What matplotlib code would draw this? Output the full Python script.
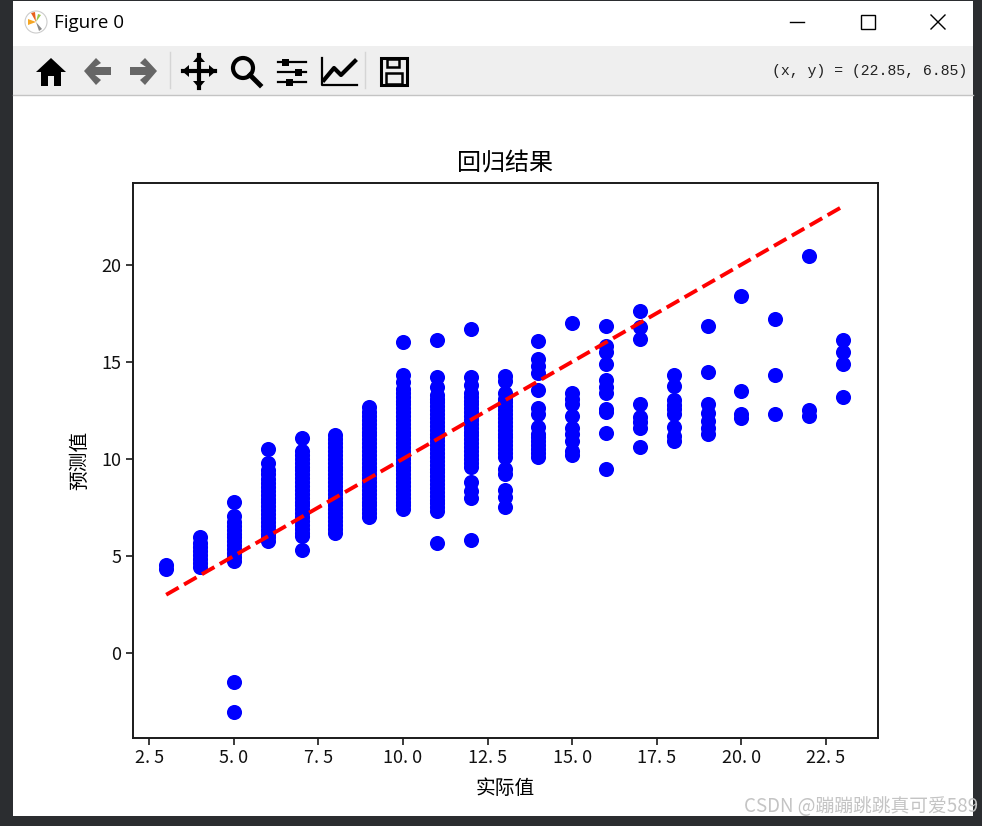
import matplotlib
matplotlib.use("Agg")
import matplotlib.pyplot as plt
from matplotlib.patches import Rectangle, Circle, Polygon

plt.rcParams['font.family'] = ['Noto Sans CJK SC', 'DejaVu Sans']
plt.rcParams['axes.unicode_minus'] = False

W, H = 982, 826

actual = [3, 4, 5, 6, 7, 8, 9, 10, 11, 12, 13, 14, 15, 16, 17, 18, 19, 20, 21, 22, 23]
predicted = [
    [4.3, 4.55],
    [4.45, 4.65, 4.85, 5.05, 5.25, 5.45, 5.65, 5.95],
    [-3.05, -1.5, 4.75, 4.95, 5.15, 5.35, 5.55, 5.75, 5.95, 6.15, 6.35, 6.55, 6.75, 7.05, 7.75],
    [5.75, 5.95, 6.15, 6.35, 6.55, 6.75, 6.95, 7.15, 7.35, 7.55, 7.75, 7.95, 8.15, 8.35, 8.55, 8.75, 8.95, 9.2, 9.4, 9.8, 10.5],
    [5.3, 6.0, 6.2, 6.4, 6.6, 6.8, 7.0, 7.2, 7.4, 7.6, 7.8, 8.0, 8.2, 8.4, 8.6, 8.8, 9.0, 9.2, 9.4, 9.6, 9.8, 10.0, 10.2, 10.4, 11.05],
    [6.2, 6.4, 6.6, 6.8, 7.0, 7.2, 7.4, 7.6, 7.8, 8.0, 8.2, 8.4, 8.6, 8.8, 9.0, 9.2, 9.4, 9.6, 9.8, 10.0, 10.2, 10.4, 10.6, 10.8, 11.0, 11.25],
    [7.0, 7.2, 7.4, 7.6, 7.8, 8.0, 8.2, 8.4, 8.6, 8.8, 9.0, 9.2, 9.4, 9.6, 9.8, 10.0, 10.2, 10.4, 10.6, 10.8, 11.0, 11.2, 11.4, 11.6, 11.8, 12.0, 12.2, 12.4, 12.65],
    [7.4, 7.6, 7.8, 8.0, 8.2, 8.4, 8.6, 8.8, 9.0, 9.2, 9.4, 9.6, 9.8, 10.0, 10.2, 10.4, 10.6, 10.8, 11.0, 11.2, 11.4, 11.6, 11.8, 12.0, 12.2, 12.4, 12.6, 12.8, 13.0, 13.2, 13.4, 13.6, 13.95, 14.3, 16.0],
    [5.65, 7.3, 7.5, 7.7, 7.9, 8.1, 8.3, 8.5, 8.7, 8.9, 9.1, 9.3, 9.5, 9.7, 9.9, 10.1, 10.3, 10.5, 10.7, 10.9, 11.1, 11.3, 11.5, 11.7, 11.9, 12.1, 12.3, 12.5, 12.7, 12.9, 13.1, 13.3, 13.7, 14.2, 16.1],
    [5.8, 8.0, 8.35, 8.8, 9.6, 9.8, 10.0, 10.2, 10.4, 10.6, 10.8, 11.0, 11.2, 11.4, 11.6, 11.8, 12.0, 12.2, 12.4, 12.6, 12.8, 13.0, 13.2, 13.4, 13.8, 14.2, 16.7],
    [7.5, 8.05, 8.4, 9.2, 9.5, 10.1, 10.3, 10.5, 10.7, 10.9, 11.1, 11.3, 11.5, 11.7, 11.9, 12.1, 12.3, 12.5, 12.7, 12.9, 13.1, 13.4, 14.0, 14.25],
    [10.1, 10.3, 10.5, 10.7, 10.9, 11.1, 11.3, 11.65, 12.3, 12.6, 13.55, 14.4, 14.8, 15.15, 16.05],
    [10.2, 10.4, 10.9, 11.3, 11.6, 12.2, 12.8, 13.1, 13.4, 17.0],
    [9.5, 11.35, 12.4, 12.55, 13.4, 13.7, 14.05, 14.9, 15.5, 15.8, 16.85],
    [10.6, 11.6, 11.9, 12.15, 12.8, 16.15, 16.8, 17.6],
    [10.9, 11.15, 11.65, 12.3, 12.55, 12.75, 13.05, 13.75, 14.3],
    [11.3, 11.6, 11.95, 12.35, 12.8, 14.45, 16.85],
    [12.1, 12.3, 13.5, 18.4],
    [12.3, 14.3, 17.2],
    [12.2, 12.5, 20.45],
    [13.2, 14.9, 15.5, 16.1],
]
line_x = [3, 23]
line_y = [3, 23]
xticks = [2.5, 5.0, 7.5, 10.0, 12.5, 15.0, 17.5, 20.0, 22.5]
yticks = [0, 5, 10, 15, 20]

xs = [a for a, col in zip(actual, predicted) for _ in col]
ys = [v for col in predicted for v in col]

fig = plt.figure(figsize=(W / 100, H / 100), dpi=100, facecolor='white')

# window frame, in pixel coordinates
bg = fig.add_axes([0, 0, 1, 1], zorder=0)
bg.set_xlim(0, W)
bg.set_ylim(H, 0)
bg.axis('off')
dark = '#2b2d30'
for r in [(0, 0, 13, H), (973, 0, 9, H), (0, 816, W, 10), (0, 0, W, 1)]:
    bg.add_patch(Rectangle((r[0], r[1]), r[2], r[3], fc=dark, ec='none'))
bg.add_patch(Rectangle((13, 46), 960, 49, fc='#efefef', ec='none'))
bg.plot([13, 973], [95, 95], color='#c4c4c4', lw=1)
bg.add_patch(Circle((36, 22), 11, fc='white', ec='#cccccc', lw=0.8))
bg.add_patch(Polygon([(28, 19), (36, 22), (28, 25)], fc='#f5a623', ec='none'))
bg.add_patch(Polygon([(31, 13), (36, 22), (35, 12)], fc='#e8601c', ec='none'))
bg.add_patch(Polygon([(41, 15), (36, 22), (38, 14)], fc='#9ac64b', ec='none'))
bg.add_patch(Polygon([(42, 29), (36, 22), (39, 31)], fc='#888888', ec='none'))
bg.text(54, 23, 'Figure 0', fontsize=13.5, family='Open Sans', va='center', ha='left', color='black')
bg.plot([790, 804], [22, 22], color='black', lw=1)
bg.add_patch(Rectangle((861, 15), 14, 14, fc='none', ec='black', lw=1))
bg.plot([931, 945], [15, 29], color='black', lw=1)
bg.plot([931, 945], [29, 15], color='black', lw=1)
# toolbar
for xp in (170, 365):
    bg.plot([xp, xp], [52, 88], color='#d5d5d5', lw=1)
bg.add_patch(Polygon([(36, 72), (51, 58), (66, 72), (61, 72), (61, 86), (54, 86), (54, 76), (48, 76), (48, 86), (41, 86), (41, 72)], fc='black', ec='none'))
bg.add_patch(Polygon([(84, 71), (96, 58), (101, 63), (95, 67), (111, 67), (111, 75), (95, 75), (101, 80), (96, 85)], fc='#666666', ec='none'))
bg.add_patch(Polygon([(157, 71), (145, 58), (140, 63), (146, 67), (130, 67), (130, 75), (146, 75), (140, 80), (145, 85)], fc='#666666', ec='none'))
bg.plot([183, 215], [71, 71], color='black', lw=3)
bg.plot([199, 199], [55, 88], color='black', lw=3)
for tri in ([(182, 71), (189, 65), (189, 77)], [(216, 71), (209, 65), (209, 77)],
            [(199, 55), (193, 62), (205, 62)], [(199, 88), (193, 81), (205, 81)]):
    bg.add_patch(Polygon(tri, fc='black', ec='none'))
bg.add_patch(Circle((243, 68), 10, fc='none', ec='black', lw=3))
bg.plot([250, 260], [75, 85], color='black', lw=3.5)
for yp, xk in zip((62, 72, 82), (285, 298, 289)):
    bg.plot([278, 306], [yp, yp], color='black', lw=1.6)
    bg.add_patch(Rectangle((xk - 3, yp - 3.5), 7, 7, fc='black', ec='none'))
bg.plot([322, 322, 357], [58, 85, 85], color='black', lw=1.6)
bg.plot([324, 334, 341, 355], [80, 68, 75, 61], color='black', lw=3)
bg.add_patch(Rectangle((381, 58), 26, 27, fc='none', ec='black', lw=2.2))
bg.add_patch(Rectangle((387, 59), 12, 8, fc='none', ec='black', lw=1.8))
bg.add_patch(Rectangle((386, 73), 16, 11, fc='none', ec='black', lw=1.8))
bg.text(967, 71, '(x, y) = (22.85, 6.85)', fontsize=10.7, family='Liberation Mono', ha='right', va='center', color='#222222')
bg.text(978, 807, 'CSDN @蹦蹦跳跳真可爱589', fontsize=13.5, ha='right', va='center', color='#c4c4c4')

# chart
left, right, top, bottom = 133, 877.5, 183, 737.5
ax = fig.add_axes([left / W, 1 - bottom / H, (right - left) / W, (bottom - top) / H], zorder=1)
ax.scatter(xs, ys, c='blue', s=118, linewidths=0)
ax.plot(line_x, line_y, color='red', linestyle='--', linewidth=2.8)
ax.set_xlim(2.02, 24.02)
ax.set_ylim(-4.35, 24.2)
ax.set_xticks(xticks)
ax.set_xticklabels([f'{t:.1f}'.replace('.', '. ') for t in xticks])
ax.set_yticks(yticks)
ax.tick_params(labelsize=13, length=5, width=1.2, color='#1a1a1a', labelcolor='#111111')
for s in ax.spines.values():
    s.set_linewidth(1.4)
    s.set_color('#1a1a1a')
ax.set_title('回归结果', fontsize=17.3, pad=9)
ax.set_xlabel('实际值', fontsize=14.2, labelpad=8)
ax.set_ylabel('预测值', fontsize=14.2, labelpad=8)

fig.savefig('out.png', dpi=100)
